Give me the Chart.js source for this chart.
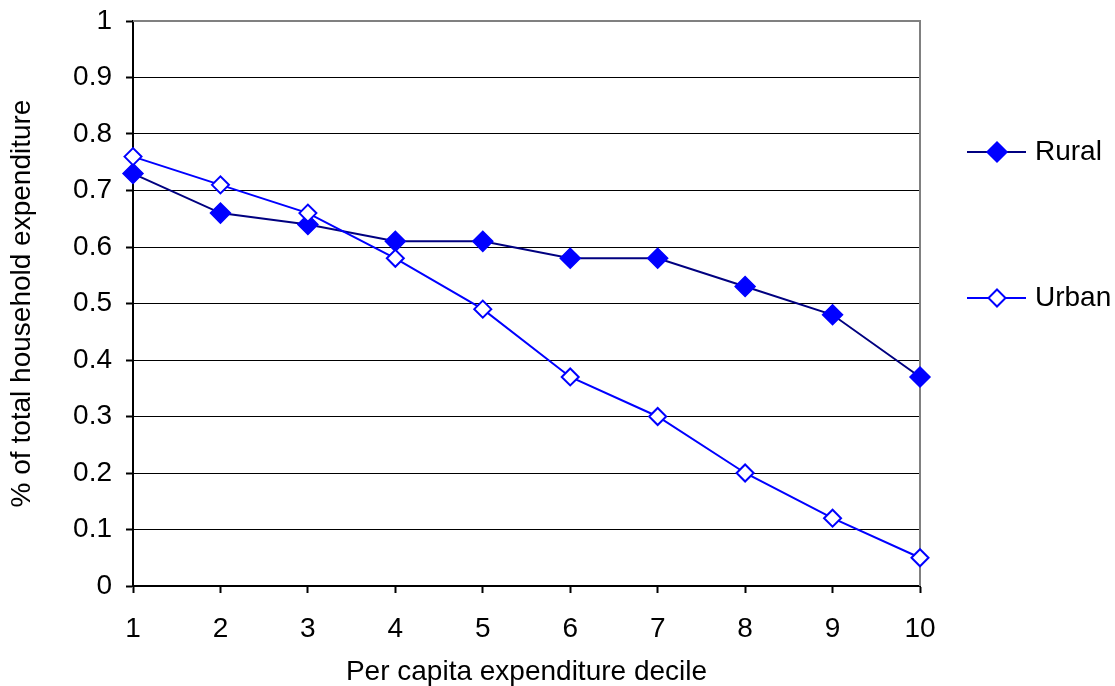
<!DOCTYPE html>
<html>
<head>
<meta charset="utf-8">
<script src="https://cdn.jsdelivr.net/npm/chart.js@4/dist/chart.umd.min.js"></script>
<style>
  html, body { margin: 0; padding: 0; background: #ffffff; }
  #wrap { width: 1115px; height: 686px; }
</style>
</head>
<body>
<div id="wrap"><canvas id="chart" width="1115" height="686"></canvas></div>
<script>
// Per capita expenditure deciles (x axis)
const deciles = ['1', '2', '3', '4', '5', '6', '7', '8', '9', '10'];

// Share of total household expenditure, by decile
const rural = [0.73, 0.66, 0.64, 0.61, 0.61, 0.58, 0.58, 0.53, 0.48, 0.37];
const urban = [0.76, 0.71, 0.66, 0.58, 0.49, 0.37, 0.30, 0.20, 0.12, 0.05];

const seriesNames = ['Rural', 'Urban'];

const FONT = 'Liberation Sans, Arial, sans-serif';
const FONT_SIZE = 28;

// Gray frame on the top and right edges of the plot area
const frame = {
  id: 'frame',
  beforeDatasetsDraw(chart) {
    const { ctx, chartArea: a } = chart;
    ctx.save();
    ctx.strokeStyle = '#808080';
    ctx.lineWidth = 2;
    ctx.beginPath();
    ctx.moveTo(a.left, a.top);
    ctx.lineTo(a.right, a.top);
    ctx.lineTo(a.right, a.bottom);
    ctx.stroke();
    ctx.restore();
  }
};

// Legend to the right of the plot, one entry per series
const sideLegend = {
  id: 'sideLegend',
  afterDraw(chart) {
    const { ctx } = chart;
    const rows = [152, 298];
    chart.data.datasets.forEach((ds, i) => {
      const y = rows[i];
      ctx.save();
      ctx.strokeStyle = ds.borderColor;
      ctx.lineWidth = ds.borderWidth;
      ctx.beginPath();
      ctx.moveTo(967, y);
      ctx.lineTo(1026, y);
      ctx.stroke();
      const r = ds.pointRadius;
      ctx.beginPath();
      ctx.moveTo(997, y - r);
      ctx.lineTo(997 + r, y);
      ctx.lineTo(997, y + r);
      ctx.lineTo(997 - r, y);
      ctx.closePath();
      ctx.fillStyle = ds.pointBackgroundColor;
      ctx.fill();
      ctx.strokeStyle = ds.pointBorderColor;
      ctx.lineWidth = ds.pointBorderWidth;
      ctx.stroke();
      ctx.fillStyle = '#000000';
      ctx.font = FONT_SIZE + 'px ' + FONT;
      ctx.textBaseline = 'middle';
      ctx.textAlign = 'left';
      ctx.fillText(ds.label, 1035, y);
      ctx.restore();
    });
  }
};

new Chart(document.getElementById('chart'), {
  type: 'line',
  data: {
    labels: deciles,
    datasets: [
      {
        label: seriesNames[0],
        data: rural,
        borderColor: '#000080',
        borderWidth: 2,
        pointStyle: 'rectRot',
        pointRadius: 10,
        pointHoverRadius: 10,
        pointBackgroundColor: '#0000FF',
        pointBorderColor: '#0000FF',
        pointBorderWidth: 1.5,
        tension: 0,
        clip: false,
        order: 2
      },
      {
        label: seriesNames[1],
        data: urban,
        borderColor: '#0000FF',
        borderWidth: 2,
        pointStyle: 'rectRot',
        pointRadius: 8.5,
        pointHoverRadius: 8.5,
        pointBackgroundColor: '#FFFFFF',
        pointBorderColor: '#0000FF',
        pointBorderWidth: 2,
        tension: 0,
        clip: false,
        order: 1
      }
    ]
  },
  options: {
    responsive: false,
    animation: false,
    devicePixelRatio: 1,
    layout: { padding: { left: 0, right: 195, top: 21, bottom: 0 } },
    plugins: {
      legend: { display: false },
      tooltip: { enabled: false }
    },
    scales: {
      x: {
        type: 'category',
        offset: false,
        afterFit(scale) {
          scale.height = 100;
          scale.paddingLeft = 0;
          scale.paddingRight = 0;
        },
        grid: {
          display: true,
          drawOnChartArea: false,
          drawTicks: true,
          tickLength: 7,
          tickColor: '#000000',
          tickWidth: 2,
          color: '#000000'
        },
        border: { color: '#000000', width: 2 },
        ticks: {
          color: '#000000',
          font: { family: FONT, size: FONT_SIZE },
          padding: 19,
          maxRotation: 0,
          autoSkip: false
        },
        title: {
          display: true,
          text: 'Per capita expenditure decile',
          color: '#000000',
          font: { family: FONT, size: FONT_SIZE, lineHeight: 1 },
          padding: { top: 0, bottom: 0 }
        }
      },
      y: {
        min: 0,
        max: 1,
        afterFit(scale) {
          scale.width = 133;
          scale.paddingTop = 0;
          scale.paddingBottom = 0;
        },
        grid: {
          color: (c) => (c.tick && c.tick.value >= 1 ? '#808080' : '#000000'),
          lineWidth: 1,
          drawTicks: true,
          tickLength: 7,
          tickColor: '#000000',
          tickWidth: 2
        },
        border: { color: '#000000', width: 2 },
        ticks: {
          stepSize: 0.1,
          color: '#000000',
          font: { family: FONT, size: FONT_SIZE },
          padding: 14,
          callback: (v) => String(+Number(v).toFixed(1))
        },
        title: {
          display: true,
          text: '% of total household expenditure',
          color: '#000000',
          font: { family: FONT, size: FONT_SIZE, lineHeight: 1 },
          padding: { top: 8, bottom: 0 }
        }
      }
    }
  },
  plugins: [frame, sideLegend]
});
</script>
</body>
</html>
